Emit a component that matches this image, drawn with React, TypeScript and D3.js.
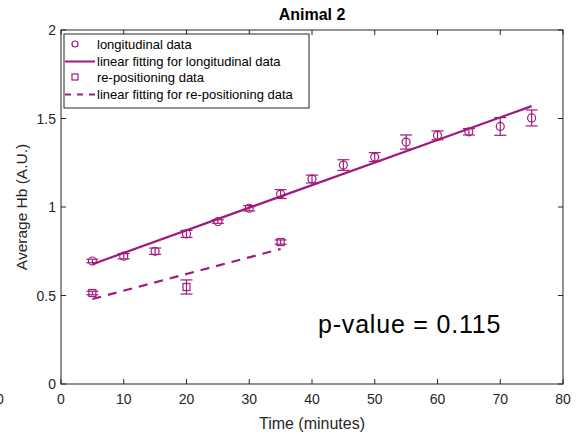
import React from 'react';
import * as d3 from 'd3';

const width = 579;
const height = 439;
const margin = { top: 30, right: 16, bottom: 55, left: 61 };

// longitudinal measurements
const longTime = [5, 10, 15, 20, 25, 30, 35, 40, 45, 50, 55, 60, 65, 70, 75];
const longHb = [0.695, 0.722, 0.75, 0.848, 0.918, 0.993, 1.073, 1.158, 1.237, 1.282, 1.367, 1.405, 1.425, 1.455, 1.503];
const longErr = [0.01, 0.015, 0.018, 0.02, 0.01, 0.015, 0.025, 0.022, 0.03, 0.025, 0.04, 0.025, 0.018, 0.05, 0.045];

// re-positioning measurements
const repTime = [5, 20, 35];
const repHb = [0.514, 0.548, 0.802];
const repErr = [0.01, 0.04, 0.012];

// fitted line end points
const longFitTime = [5, 75];
const longFitHb = [0.677, 1.57];
const repFitTime = [5, 35];
const repFitHb = [0.48, 0.763];

const xTicks = [0, 10, 20, 30, 40, 50, 60, 70, 80];
const yTicks = [0, 0.5, 1, 1.5, 2];

const color = '#A0197E';
const axisColor = '#262626';
const font = 'Liberation Sans, Arial, sans-serif';

export default function App() {
  const x = d3.scaleLinear().domain([0, 80]).range([margin.left, width - margin.right]);
  const y = d3.scaleLinear().domain([0, 2]).range([height - margin.bottom, margin.top]);
  const line = d3.line<[number, number]>().x(d => x(d[0])).y(d => y(d[1]));

  const x0 = x(0), x1 = x(80), y0 = y(0), y1 = y(2);
  const cap = 6;

  const errBar = (t: number, v: number, e: number, key: string) => (
    <g key={key} stroke={color} strokeWidth={1.2} fill="none">
      <line x1={x(t)} x2={x(t)} y1={y(v - e)} y2={y(v + e)} />
      <line x1={x(t) - cap} x2={x(t) + cap} y1={y(v - e)} y2={y(v - e)} />
      <line x1={x(t) - cap} x2={x(t) + cap} y1={y(v + e)} y2={y(v + e)} />
    </g>
  );

  const legendItems = [
    { label: 'longitudinal data', kind: 'circle' },
    { label: 'linear fitting for longitudinal data', kind: 'line' },
    { label: 're-positioning data', kind: 'square' },
    { label: 'linear fitting for re-positioning data', kind: 'dash' },
  ];

  return (
    <svg width={width} height={height} style={{ position: 'absolute', left: 0, top: 0, background: '#fff' }}>
      <rect width={width} height={height} fill="#fff" />
      {/* frame */}
      <rect x={x0} y={y1} width={x1 - x0} height={y0 - y1} fill="none" stroke={axisColor} strokeWidth={1} />
      {xTicks.map(t => (
        <g key={'xt' + t} stroke={axisColor}>
          <line x1={x(t)} x2={x(t)} y1={y0} y2={y0 - 5} />
          <line x1={x(t)} x2={x(t)} y1={y1} y2={y1 + 5} />
        </g>
      ))}
      {yTicks.map(t => (
        <g key={'yt' + t} stroke={axisColor}>
          <line x1={x0} x2={x0 + 5} y1={y(t)} y2={y(t)} />
          <line x1={x1} x2={x1 - 5} y1={y(t)} y2={y(t)} />
        </g>
      ))}
      {xTicks.map(t => (
        <text key={'xl' + t} x={x(t)} y={y0 + 20} textAnchor="middle" fontFamily={font} fontSize={14} fill={axisColor}>{t}</text>
      ))}
      {yTicks.map(t => (
        <text key={'yl' + t} x={x0 - 5} y={y(t) + 5} textAnchor="end" fontFamily={font} fontSize={14} fill={axisColor}>{t}</text>
      ))}
      <text x={-4} y={y0 + 20} fontFamily={font} fontSize={14} fill={axisColor}>0</text>
      <text x={(x0 + x1) / 2} y={y0 + 45} textAnchor="middle" fontFamily={font} fontSize={16} fill={axisColor}>Time (minutes)</text>
      <text transform={`translate(27, ${(y0 + y1) / 2}) rotate(-90)`} textAnchor="middle" fontFamily={font} fontSize={15.5} fill={axisColor}>Average Hb (A.U.)</text>
      <text x={(x0 + x1) / 2} y={20} textAnchor="middle" fontFamily={font} fontSize={16} fontWeight="bold" fill="#000">Animal 2</text>

      {/* fits */}
      <path d={line(longFitTime.map((t, i) => [t, longFitHb[i]]) as [number, number][]) || ''} fill="none" stroke={color} strokeWidth={2.2} />
      <path d={line(repFitTime.map((t, i) => [t, repFitHb[i]]) as [number, number][]) || ''} fill="none" stroke={color} strokeWidth={2.2} strokeDasharray="9,7" />

      {/* longitudinal points */}
      {longTime.map((t, i) => (
        <g key={'l' + i}>
          {errBar(t, longHb[i], longErr[i], 'le' + i)}
          <circle cx={x(t)} cy={y(longHb[i])} r={4} fill="none" stroke={color} strokeWidth={1.2} />
        </g>
      ))}
      {/* re-positioning points */}
      {repTime.map((t, i) => (
        <g key={'r' + i}>
          {errBar(t, repHb[i], repErr[i], 're' + i)}
          <rect x={x(t) - 3.5} y={y(repHb[i]) - 3.5} width={7} height={7} fill="none" stroke={color} strokeWidth={1.2} />
        </g>
      ))}

      {/* p-value */}
      <text x={318} y={333} fontFamily={font} fontSize={25} letterSpacing={0.8} fill="#000">p-value = 0.115</text>

      {/* legend */}
      <g>
        <rect x={64} y={34} width={245} height={74} fill="#fff" stroke={axisColor} strokeWidth={1} />
        {legendItems.map((d, i) => {
          const cy = 45 + i * 16.5;
          return (
            <g key={'lg' + i}>
              {d.kind === 'circle' && <circle cx={75} cy={cy - 1} r={3} fill="none" stroke={color} strokeWidth={1.2} />}
              {d.kind === 'square' && <rect x={72} y={cy - 4} width={6} height={6} fill="none" stroke={color} strokeWidth={1.2} />}
              {d.kind === 'line' && <line x1={65} x2={95} y1={cy} y2={cy} stroke={color} strokeWidth={2} />}
              {d.kind === 'dash' && <line x1={65} x2={95} y1={cy} y2={cy} stroke={color} strokeWidth={2} strokeDasharray="6,6" />}
              <text x={97} y={cy + 4} fontFamily={font} fontSize={13} fill="#000">{d.label}</text>
            </g>
          );
        })}
      </g>
    </svg>
  );
}
